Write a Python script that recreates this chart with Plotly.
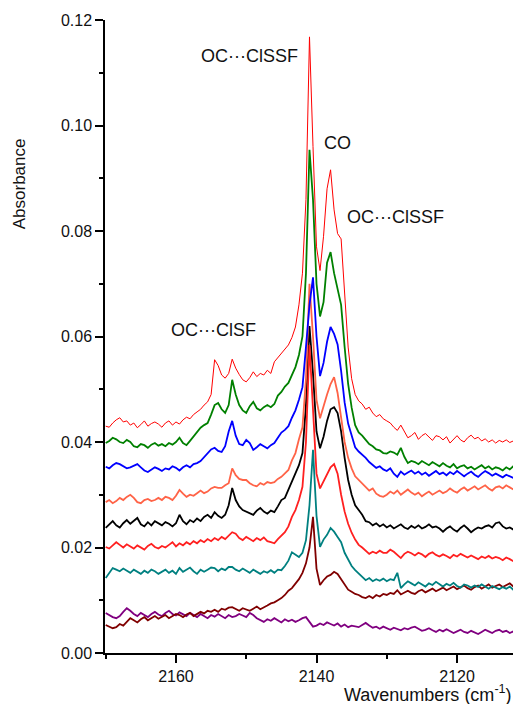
import plotly.graph_objects as go

# Wavenumber grid (cm^-1), 0.5 cm^-1 steps, high to low
wavenumber = [
    2170.0, 2169.5, 2169.0, 2168.5, 2168.0, 2167.5, 2167.0, 2166.5,
    2166.0, 2165.5, 2165.0, 2164.5, 2164.0, 2163.5, 2163.0, 2162.5,
    2162.0, 2161.5, 2161.0, 2160.5, 2160.0, 2159.5, 2159.0, 2158.5,
    2158.0, 2157.5, 2157.0, 2156.5, 2156.0, 2155.5, 2155.0, 2154.5,
    2154.0, 2153.5, 2153.0, 2152.5, 2152.0, 2151.5, 2151.0, 2150.5,
    2150.0, 2149.5, 2149.0, 2148.5, 2148.0, 2147.5, 2147.0, 2146.5,
    2146.0, 2145.5, 2145.0, 2144.5, 2144.0, 2143.5, 2143.0, 2142.5,
    2142.0, 2141.5, 2141.0, 2140.5, 2140.0, 2139.5, 2139.0, 2138.5,
    2138.0, 2137.5, 2137.0, 2136.5, 2136.0, 2135.5, 2135.0, 2134.5,
    2134.0, 2133.5, 2133.0, 2132.5, 2132.0, 2131.5, 2131.0, 2130.5,
    2130.0, 2129.5, 2129.0, 2128.5, 2128.0, 2127.5, 2127.0, 2126.5,
    2126.0, 2125.5, 2125.0, 2124.5, 2124.0, 2123.5, 2123.0, 2122.5,
    2122.0, 2121.5, 2121.0, 2120.5, 2120.0, 2119.5, 2119.0, 2118.5,
    2118.0, 2117.5, 2117.0, 2116.5, 2116.0, 2115.5, 2115.0, 2114.5,
    2114.0, 2113.5, 2113.0, 2112.5, 2112.0, 2111.5, 2111.0,
]

spec_red_top = [
    0.0430, 0.0428, 0.0436, 0.0442, 0.0446, 0.0438, 0.0440, 0.0432,
    0.0436, 0.0427, 0.0433, 0.0440, 0.0430, 0.0435, 0.0438, 0.0434,
    0.0428, 0.0436, 0.0440, 0.0432, 0.0438, 0.0434, 0.0442, 0.0447,
    0.0444, 0.0452, 0.0457, 0.0462, 0.0470, 0.0476, 0.0490, 0.0556,
    0.0545, 0.0527, 0.0521, 0.0530, 0.0557, 0.0540, 0.0528, 0.0518,
    0.0514, 0.0522, 0.0533, 0.0524, 0.0530, 0.0527, 0.0536, 0.0530,
    0.0552, 0.0560, 0.0566, 0.0575, 0.0584, 0.0598, 0.0618, 0.0660,
    0.0720, 0.0860, 0.1168, 0.0960, 0.0770, 0.0725, 0.0790, 0.0880,
    0.0916, 0.0840, 0.0795, 0.0785, 0.0680, 0.0580, 0.0520, 0.0490,
    0.0478, 0.0472, 0.0462, 0.0466, 0.0455, 0.0448, 0.0452, 0.0444,
    0.0440, 0.0436, 0.0428, 0.0422, 0.0432, 0.0420, 0.0408, 0.0412,
    0.0418, 0.0405, 0.0412, 0.0416, 0.0409, 0.0403, 0.0412, 0.0410,
    0.0404, 0.0410, 0.0398, 0.0406, 0.0412, 0.0404, 0.0400, 0.0408,
    0.0413, 0.0406, 0.0409, 0.0402, 0.0406, 0.0400, 0.0404, 0.0398,
    0.0403, 0.0400, 0.0404, 0.0399, 0.0402, 0.0398, 0.0400,
]

spec_green = [
    0.0398, 0.0402, 0.0408, 0.0405, 0.0400, 0.0398, 0.0404, 0.0400,
    0.0392, 0.0390, 0.0396, 0.0394, 0.0389, 0.0395, 0.0398, 0.0393,
    0.0396, 0.0392, 0.0398, 0.0395, 0.0400, 0.0408, 0.0398, 0.0394,
    0.0402, 0.0410, 0.0418, 0.0427, 0.0432, 0.0436, 0.0452, 0.0470,
    0.0474, 0.0462, 0.0455, 0.0470, 0.0518, 0.0490, 0.0470, 0.0460,
    0.0455, 0.0468, 0.0476, 0.0464, 0.0460, 0.0466, 0.0470, 0.0466,
    0.0472, 0.0488, 0.0495, 0.0505, 0.0512, 0.0528, 0.0542, 0.0565,
    0.0600, 0.0720, 0.0954, 0.0860, 0.0700, 0.0638, 0.0665, 0.0740,
    0.0760, 0.0720, 0.0690, 0.0660, 0.0580, 0.0510, 0.0465, 0.0432,
    0.0418, 0.0412, 0.0404, 0.0396, 0.0392, 0.0386, 0.0384, 0.0379,
    0.0378, 0.0382, 0.0380, 0.0376, 0.0389, 0.0372, 0.0360, 0.0364,
    0.0362, 0.0358, 0.0364, 0.0360, 0.0356, 0.0362, 0.0358, 0.0354,
    0.0360, 0.0355, 0.0352, 0.0358, 0.0350, 0.0354, 0.0356, 0.0350,
    0.0353, 0.0348, 0.0352, 0.0356, 0.0350, 0.0354, 0.0348, 0.0352,
    0.0350, 0.0346, 0.0352, 0.0348, 0.0354, 0.0350, 0.0346,
]

spec_blue = [
    0.0353, 0.0350, 0.0356, 0.0360, 0.0358, 0.0354, 0.0350, 0.0352,
    0.0355, 0.0358, 0.0352, 0.0346, 0.0343, 0.0348, 0.0352, 0.0349,
    0.0345, 0.0350, 0.0348, 0.0354, 0.0351, 0.0346, 0.0352, 0.0356,
    0.0352, 0.0358, 0.0360, 0.0364, 0.0372, 0.0378, 0.0386, 0.0389,
    0.0383, 0.0381, 0.0392, 0.0420, 0.0440, 0.0412, 0.0396, 0.0394,
    0.0404, 0.0398, 0.0385, 0.0390, 0.0396, 0.0392, 0.0388, 0.0394,
    0.0398, 0.0408, 0.0418, 0.0423, 0.0430, 0.0446, 0.0460, 0.0480,
    0.0504, 0.0580, 0.0660, 0.0712, 0.0600, 0.0525, 0.0550, 0.0590,
    0.0618, 0.0605, 0.0585, 0.0535, 0.0475, 0.0435, 0.0410, 0.0390,
    0.0382, 0.0376, 0.0370, 0.0362, 0.0356, 0.0351, 0.0354, 0.0348,
    0.0345, 0.0350, 0.0340, 0.0334, 0.0344, 0.0338, 0.0342, 0.0346,
    0.0340, 0.0344, 0.0338, 0.0342, 0.0336, 0.0341, 0.0345, 0.0339,
    0.0342, 0.0337, 0.0343, 0.0339, 0.0345, 0.0340, 0.0335, 0.0340,
    0.0344, 0.0338, 0.0334, 0.0340, 0.0345, 0.0341, 0.0336, 0.0340,
    0.0337, 0.0333, 0.0338, 0.0335, 0.0332, 0.0336, 0.0334,
]

spec_tomato = [
    0.0286, 0.0290, 0.0284, 0.0288, 0.0294, 0.0290, 0.0296, 0.0300,
    0.0294, 0.0286, 0.0284, 0.0290, 0.0292, 0.0288, 0.0290, 0.0294,
    0.0290, 0.0296, 0.0294, 0.0290, 0.0298, 0.0309, 0.0302, 0.0296,
    0.0300, 0.0298, 0.0303, 0.0308, 0.0303, 0.0306, 0.0312, 0.0315,
    0.0313, 0.0313, 0.0318, 0.0322, 0.0350, 0.0337, 0.0330, 0.0328,
    0.0328, 0.0322, 0.0318, 0.0316, 0.0322, 0.0319, 0.0324, 0.0322,
    0.0324, 0.0330, 0.0334, 0.0340, 0.0347, 0.0365, 0.0379, 0.0405,
    0.0428, 0.0520, 0.0700, 0.0600, 0.0480, 0.0445, 0.0470, 0.0490,
    0.0510, 0.0523, 0.0493, 0.0445, 0.0400, 0.0370, 0.0350, 0.0335,
    0.0328, 0.0320, 0.0315, 0.0308, 0.0312, 0.0302, 0.0298, 0.0296,
    0.0300, 0.0306, 0.0302, 0.0308, 0.0300, 0.0305, 0.0310, 0.0304,
    0.0300, 0.0304, 0.0297, 0.0302, 0.0306, 0.0300, 0.0304, 0.0308,
    0.0303, 0.0306, 0.0312, 0.0307, 0.0304, 0.0310, 0.0314, 0.0308,
    0.0312, 0.0316, 0.0310, 0.0314, 0.0318, 0.0312, 0.0308, 0.0314,
    0.0316, 0.0312, 0.0318, 0.0314, 0.0310, 0.0316, 0.0313,
]

spec_black = [
    0.0237, 0.0244, 0.0250, 0.0242, 0.0238, 0.0246, 0.0252, 0.0245,
    0.0250, 0.0256, 0.0244, 0.0240, 0.0248, 0.0242, 0.0250, 0.0246,
    0.0242, 0.0248, 0.0245, 0.0240, 0.0246, 0.0262, 0.0250, 0.0244,
    0.0252, 0.0248, 0.0255, 0.0250, 0.0258, 0.0262, 0.0256, 0.0267,
    0.0260, 0.0256, 0.0262, 0.0280, 0.0313, 0.0290, 0.0278, 0.0271,
    0.0268, 0.0264, 0.0262, 0.0270, 0.0275, 0.0268, 0.0264, 0.0270,
    0.0267, 0.0278, 0.0290, 0.0294, 0.0310, 0.0326, 0.0341, 0.0356,
    0.0379, 0.0470, 0.0620, 0.0530, 0.0420, 0.0388, 0.0410, 0.0440,
    0.0462, 0.0466, 0.0455, 0.0420, 0.0370, 0.0328, 0.0300, 0.0280,
    0.0271, 0.0262, 0.0250, 0.0248, 0.0242, 0.0246, 0.0240, 0.0244,
    0.0238, 0.0242, 0.0236, 0.0240, 0.0244, 0.0238, 0.0235, 0.0241,
    0.0237, 0.0242, 0.0236, 0.0239, 0.0244, 0.0238, 0.0240, 0.0236,
    0.0230, 0.0236, 0.0240, 0.0234, 0.0230, 0.0237, 0.0242, 0.0236,
    0.0229, 0.0234, 0.0238, 0.0236, 0.0240, 0.0242, 0.0238, 0.0246,
    0.0248, 0.0240, 0.0236, 0.0238, 0.0234, 0.0230, 0.0233,
]

spec_red_low = [
    0.0201, 0.0198, 0.0204, 0.0210, 0.0205, 0.0200, 0.0206, 0.0202,
    0.0198, 0.0204, 0.0200, 0.0196, 0.0203, 0.0207, 0.0201, 0.0198,
    0.0203, 0.0200, 0.0205, 0.0210, 0.0202, 0.0208, 0.0204, 0.0210,
    0.0206, 0.0212, 0.0208, 0.0214, 0.0210, 0.0216, 0.0212, 0.0218,
    0.0214, 0.0220, 0.0216, 0.0222, 0.0229, 0.0226, 0.0218, 0.0214,
    0.0220, 0.0216, 0.0212, 0.0218, 0.0214, 0.0219, 0.0212, 0.0210,
    0.0208, 0.0216, 0.0222, 0.0229, 0.0240, 0.0258, 0.0271, 0.0290,
    0.0315, 0.0400, 0.0584, 0.0470, 0.0340, 0.0312, 0.0325, 0.0340,
    0.0352, 0.0358, 0.0340, 0.0300, 0.0268, 0.0245, 0.0228, 0.0215,
    0.0205, 0.0200, 0.0193, 0.0188, 0.0192, 0.0189, 0.0194, 0.0190,
    0.0190, 0.0196, 0.0192, 0.0186, 0.0180, 0.0188, 0.0192, 0.0189,
    0.0185, 0.0190, 0.0187, 0.0182, 0.0188, 0.0191, 0.0186, 0.0183,
    0.0187, 0.0184, 0.0180, 0.0186, 0.0183, 0.0188, 0.0184, 0.0181,
    0.0185, 0.0182, 0.0178, 0.0183, 0.0180, 0.0184, 0.0179, 0.0182,
    0.0180, 0.0176, 0.0181, 0.0178, 0.0174, 0.0176, 0.0173,
]

spec_teal = [
    0.0142, 0.0152, 0.0161, 0.0158, 0.0155, 0.0160, 0.0156, 0.0152,
    0.0158, 0.0154, 0.0150, 0.0156, 0.0152, 0.0158, 0.0155, 0.0150,
    0.0154, 0.0158, 0.0152, 0.0156, 0.0150, 0.0161, 0.0154, 0.0158,
    0.0162, 0.0155, 0.0150, 0.0158, 0.0154, 0.0158, 0.0162, 0.0161,
    0.0155, 0.0160, 0.0157, 0.0163, 0.0163, 0.0158, 0.0155, 0.0160,
    0.0156, 0.0152, 0.0158, 0.0154, 0.0150, 0.0155, 0.0152, 0.0157,
    0.0152, 0.0158, 0.0157, 0.0165, 0.0175, 0.0191, 0.0186, 0.0182,
    0.0190, 0.0214, 0.0280, 0.0385, 0.0260, 0.0201, 0.0215, 0.0224,
    0.0237, 0.0230, 0.0220, 0.0210, 0.0190, 0.0176, 0.0165, 0.0157,
    0.0150, 0.0144, 0.0138, 0.0142, 0.0136, 0.0140, 0.0137, 0.0141,
    0.0136, 0.0140, 0.0138, 0.0152, 0.0123, 0.0130, 0.0136, 0.0132,
    0.0128, 0.0134, 0.0130, 0.0126, 0.0132, 0.0129, 0.0135, 0.0130,
    0.0126, 0.0131, 0.0128, 0.0133, 0.0127, 0.0124, 0.0130, 0.0128,
    0.0124, 0.0128, 0.0125, 0.0130, 0.0126, 0.0122, 0.0127, 0.0124,
    0.0121, 0.0125, 0.0122, 0.0126, 0.0120, 0.0123, 0.0120,
]

spec_maroon = [
    0.0053, 0.0050, 0.0047, 0.0049, 0.0055, 0.0052, 0.0060, 0.0066,
    0.0062, 0.0058, 0.0064, 0.0068, 0.0062, 0.0066, 0.0070, 0.0065,
    0.0068, 0.0072, 0.0066, 0.0070, 0.0074, 0.0072, 0.0068, 0.0073,
    0.0076, 0.0070, 0.0074, 0.0078, 0.0075, 0.0080, 0.0078, 0.0082,
    0.0078, 0.0084, 0.0082, 0.0086, 0.0087, 0.0084, 0.0080, 0.0085,
    0.0082, 0.0080, 0.0084, 0.0088, 0.0083, 0.0086, 0.0090, 0.0094,
    0.0096, 0.0100, 0.0104, 0.0110, 0.0118, 0.0123, 0.0132, 0.0140,
    0.0152, 0.0170, 0.0200, 0.0258, 0.0160, 0.0129, 0.0138, 0.0145,
    0.0148, 0.0154, 0.0150, 0.0140, 0.0128, 0.0120, 0.0116, 0.0112,
    0.0110, 0.0106, 0.0104, 0.0108, 0.0104, 0.0110, 0.0107, 0.0112,
    0.0110, 0.0114, 0.0112, 0.0119, 0.0111, 0.0115, 0.0118, 0.0114,
    0.0112, 0.0117, 0.0120, 0.0115, 0.0118, 0.0122, 0.0117, 0.0120,
    0.0124, 0.0119, 0.0122, 0.0126, 0.0121, 0.0124, 0.0128, 0.0123,
    0.0120, 0.0125, 0.0128, 0.0122, 0.0126, 0.0130, 0.0124, 0.0127,
    0.0130, 0.0125, 0.0128, 0.0132, 0.0126, 0.0129, 0.0125,
]

spec_purple = [
    0.0076, 0.0072, 0.0068, 0.0066, 0.0070, 0.0078, 0.0085, 0.0080,
    0.0074, 0.0070, 0.0076, 0.0072, 0.0068, 0.0074, 0.0078, 0.0073,
    0.0070, 0.0076, 0.0080, 0.0074, 0.0071, 0.0077, 0.0073, 0.0070,
    0.0076, 0.0072, 0.0068, 0.0074, 0.0070, 0.0066, 0.0072, 0.0069,
    0.0074, 0.0070, 0.0066, 0.0072, 0.0068, 0.0070, 0.0074, 0.0071,
    0.0068, 0.0076, 0.0072, 0.0066, 0.0062, 0.0059, 0.0064, 0.0061,
    0.0066, 0.0062, 0.0058, 0.0064, 0.0060, 0.0063, 0.0059, 0.0062,
    0.0066, 0.0068, 0.0060, 0.0050, 0.0052, 0.0056, 0.0053, 0.0058,
    0.0055, 0.0052, 0.0056, 0.0050, 0.0054, 0.0049, 0.0052, 0.0050,
    0.0049, 0.0053, 0.0057, 0.0052, 0.0048, 0.0050, 0.0046, 0.0050,
    0.0047, 0.0044, 0.0048, 0.0046, 0.0043, 0.0047, 0.0045, 0.0048,
    0.0050, 0.0046, 0.0042, 0.0044, 0.0047, 0.0043, 0.0040, 0.0044,
    0.0041, 0.0045, 0.0042, 0.0038, 0.0041, 0.0044, 0.0040, 0.0038,
    0.0042, 0.0039, 0.0036, 0.0040, 0.0044, 0.0041, 0.0038, 0.0042,
    0.0044, 0.0040, 0.0042, 0.0038, 0.0041, 0.0036, 0.0030,
]

# (series, colour, width) in drawing order (bottom first)
series = [
    (spec_purple, "#800080", 1.8),
    (spec_maroon, "#800000", 1.8),
    (spec_teal, "#008080", 1.8),
    (spec_black, "#000000", 1.8),
    (spec_tomato, "#ff6347", 1.8),
    (spec_red_low, "#ff2020", 1.8),
    (spec_blue, "#0000ff", 1.8),
    (spec_green, "#008000", 1.8),
    (spec_red_top, "#ff0000", 1.0),
]

# Peak labels
label_text = ["OC\u00b7\u00b7\u00b7ClSSF", "CO", "OC\u00b7\u00b7\u00b7ClSSF", "OC\u00b7\u00b7\u00b7ClSF"]
label_x = [2149.5, 2137.0, 2135.9, 2154.7]
label_y = [0.1132, 0.0967, 0.0827, 0.0612]
label_anchor = ["center", "center", "left", "center"]

FONT = "Liberation Sans, Arial, sans-serif"
TXT = "#111111"

fig = go.Figure()
for ys, col, w in series:
    fig.add_trace(go.Scatter(x=wavenumber, y=ys, mode="lines",
                             line=dict(color=col, width=w),
                             hoverinfo="skip", showlegend=False))

for t, lx, ly, anc in zip(label_text, label_x, label_y, label_anchor):
    fig.add_annotation(x=lx, y=ly, text=t, showarrow=False, xanchor=anc,
                       yanchor="middle", font=dict(size=18, color=TXT, family=FONT))

# Axis titles placed like the original
fig.add_annotation(x=0.984, y=-0.064, xref="paper", yref="paper",
                   text="Wavenumbers (cm<sup>-1</sup>)", showarrow=False,
                   xanchor="right", yanchor="middle",
                   font=dict(size=18, color=TXT, family=FONT))
fig.add_annotation(x=-0.205, y=0.089, xref="paper", yref="y",
                   text="Absorbance", showarrow=False, textangle=-90,
                   xanchor="center", yanchor="middle",
                   font=dict(size=17, color=TXT, family=FONT))

# The page body adds an 8 px margin, so the figure is 8 px smaller
fig.update_layout(
    width=513, height=696,
    margin=dict(l=97, r=0, t=12, b=51),
    paper_bgcolor="white", plot_bgcolor="white",
    font=dict(family=FONT, size=16, color=TXT),
    xaxis=dict(range=[2170.1, 2110.9], showgrid=False, zeroline=False,
               showline=True, linecolor="black", linewidth=1.5,
               ticks="outside", ticklen=8, tickwidth=1.5, tickcolor="black",
               tickmode="array", tickvals=[2160, 2140, 2120],
               minor=dict(tickvals=[2170, 2150, 2130, 2110], ticks="outside",
                          ticklen=4, tickwidth=1.5, tickcolor="black"),
               tickfont=dict(size=16, family=FONT, color=TXT)),
    yaxis=dict(range=[0, 0.12], showgrid=False, zeroline=False,
               showline=True, linecolor="black", linewidth=1.5,
               ticks="outside", ticklen=8, tickwidth=1.5, tickcolor="black",
               tickmode="array", tickvals=[0, 0.02, 0.04, 0.06, 0.08, 0.10, 0.12],
               tickformat=".2f",
               minor=dict(tickvals=[0.01, 0.03, 0.05, 0.07, 0.09, 0.11], ticks="outside",
                          ticklen=4, tickwidth=1.5, tickcolor="black"),
               tickfont=dict(size=16, family=FONT, color=TXT)),
)

fig.write_html("out.html", config={"displayModeBar": False})
